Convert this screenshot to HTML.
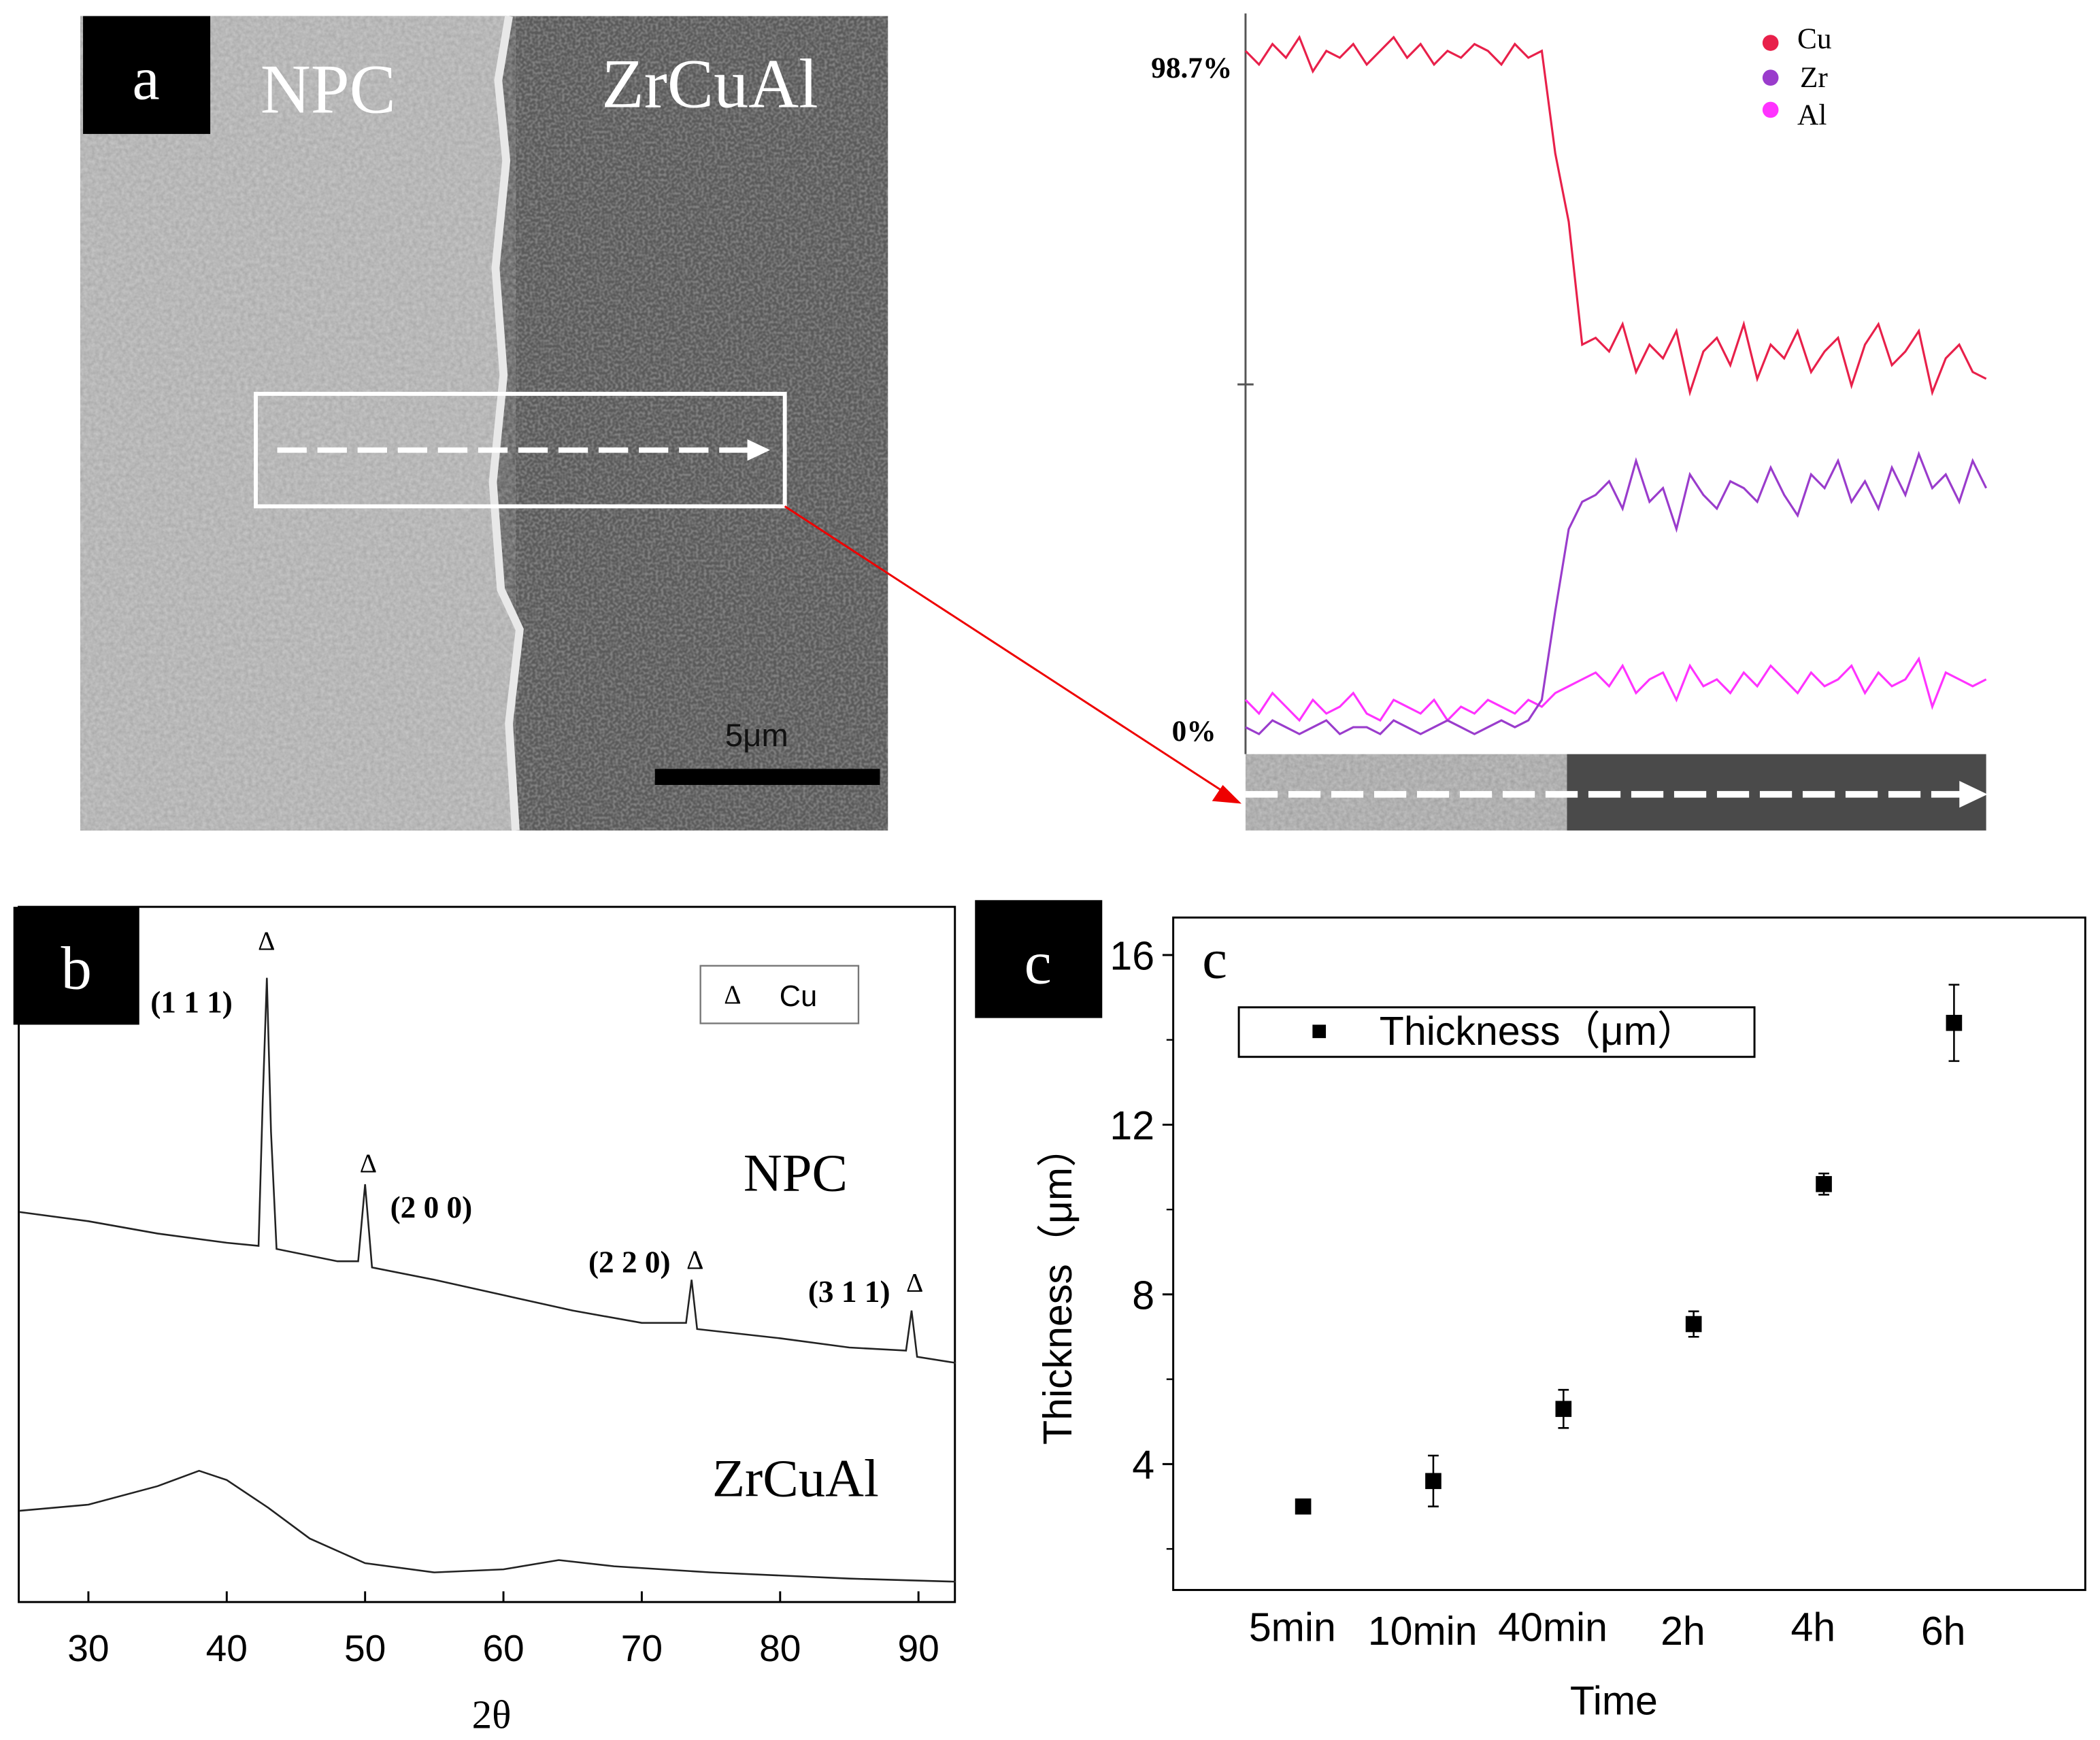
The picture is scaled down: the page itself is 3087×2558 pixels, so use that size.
<!DOCTYPE html>
<html><head><meta charset="utf-8">
<style>
html,body{margin:0;padding:0;background:#fff;}
svg{display:block;}
.serif{font-family:"Liberation Serif",serif;}
.sans{font-family:"Liberation Sans","Noto Sans CJK SC",sans-serif;}
</style></head>
<body>
<svg id="fig" width="3087" height="2558" viewBox="0 0 1568 1299" preserveAspectRatio="none" xmlns="http://www.w3.org/2000/svg">
<defs>
<filter id="tex" x="0" y="0" width="100%" height="100%">
<feTurbulence type="fractalNoise" baseFrequency="0.35" numOctaves="2" seed="3"/>
<feColorMatrix type="matrix" values="0 0 0 0 1  0 0 0 0 1  0 0 0 0 1  0 0 0 -1.2 1.1"/>
</filter>
<filter id="tex2" x="0" y="0" width="100%" height="100%">
<feTurbulence type="fractalNoise" baseFrequency="0.5" numOctaves="1" seed="7"/>
<feColorMatrix type="matrix" values="0 0 0 0 1  0 0 0 0 1  0 0 0 0 1  0 0 0 -2.5 1.6"/>
</filter>
</defs>

<!-- Panel a SEM -->
<g>
<rect x="60" y="12" width="603" height="608" fill="#5a5a5a"/>
<polygon points="60,12 380,12 372,60 378,120 370,200 376,280 368,360 374,440 388,470 380,540 385,620 60,620" fill="#a9a9a9"/>
<rect x="60" y="12" width="325" height="608" fill="#000" filter="url(#tex)" opacity="0.35"/>
<rect x="385" y="12" width="278" height="608" fill="#000" filter="url(#tex2)" opacity="0.25"/>
<polyline points="380,12 372,60 378,120 370,200 376,280 368,360 374,440 388,470 380,540 385,620" fill="none" stroke="#e8e8e8" stroke-width="6"/>
</g>
<rect x="62" y="12" width="95" height="88" fill="#000"/>
<text x="109" y="74" class="serif" font-size="46" fill="#fff" text-anchor="middle">a</text>
<text x="245" y="84" class="serif" font-size="52" fill="#fff" text-anchor="middle">NPC</text>
<text x="530" y="80" class="serif" font-size="52" fill="#fff" text-anchor="middle">ZrCuAl</text>
<rect x="191" y="294" width="395" height="84" fill="none" stroke="#fff" stroke-width="3"/>
<line x1="207" y1="336" x2="560" y2="336" stroke="#fff" stroke-width="4" stroke-dasharray="22,8"/>
<polygon points="558,328 575,336 558,344" fill="#fff"/>
<text x="565" y="557" class="sans" font-size="24" fill="#111" text-anchor="middle">5μm</text>
<rect x="489" y="574" width="168" height="12" fill="#000"/>
<line x1="586" y1="378" x2="915" y2="592" stroke="#e00" stroke-width="1.5"/>
<polygon points="927,600 905,598 913,586" fill="#e00"/>

<!-- line scan -->
<line x1="930" y1="10" x2="930" y2="563" stroke="#555" stroke-width="1.5"/>
<line x1="924" y1="287" x2="936" y2="287" stroke="#555" stroke-width="1.5"/>
<text x="920" y="58" class="serif" font-size="22" font-weight="bold" text-anchor="end">98.7%</text>
<text x="908" y="553" class="serif" font-size="22" font-weight="bold" text-anchor="end">0%</text>
<g id="scan"></g>
<circle cx="1322" cy="32" r="6" fill="#e8204a"/>
<text x="1342" y="36" class="serif" font-size="22">Cu</text>
<circle cx="1322" cy="58" r="6" fill="#9a3ccc"/>
<text x="1344" y="65" class="serif" font-size="22">Zr</text>
<circle cx="1322" cy="82" r="6" fill="#ff33ff"/>
<text x="1342" y="93" class="serif" font-size="22">Al</text>
<g>
<rect x="930" y="563" width="240" height="57" fill="#a0a0a0"/>
<rect x="930" y="563" width="240" height="57" fill="#000" filter="url(#tex)" opacity="0.35"/>
<rect x="1170" y="563" width="313" height="57" fill="#4a4a4a"/>
<line x1="930" y1="593" x2="1465" y2="593" stroke="#fff" stroke-width="5" stroke-dasharray="24,8"/>
<polygon points="1463,583 1484,593 1463,603" fill="#fff"/>
</g>

<!-- Panel b -->
<rect x="14" y="677" width="699" height="519" fill="none" stroke="#000" stroke-width="1.5"/>
<g id="xrd"></g>
<rect x="10" y="677" width="94" height="88" fill="#000"/>
<text x="57" y="738" class="serif" font-size="46" fill="#fff" text-anchor="middle">b</text>
<rect x="523" y="721" width="118" height="43" fill="#fff" stroke="#777" stroke-width="1.2"/>
<text x="547" y="749" class="serif" font-size="20" text-anchor="middle">Δ</text>
<text x="582" y="751" class="sans" font-size="22">Cu</text>
<text x="143" y="756" class="serif" font-size="23" font-weight="bold" text-anchor="middle">(1 1 1)</text>
<text x="199" y="709" class="serif" font-size="20" text-anchor="middle">Δ</text>
<text x="322" y="909" class="serif" font-size="23" font-weight="bold" text-anchor="middle">(2 0 0)</text>
<text x="275" y="875" class="serif" font-size="20" text-anchor="middle">Δ</text>
<text x="470" y="950" class="serif" font-size="23" font-weight="bold" text-anchor="middle">(2 2 0)</text>
<text x="519" y="947" class="serif" font-size="20" text-anchor="middle">Δ</text>
<text x="634" y="972" class="serif" font-size="23" font-weight="bold" text-anchor="middle">(3 1 1)</text>
<text x="683" y="964" class="serif" font-size="20" text-anchor="middle">Δ</text>
<text x="594" y="889" class="serif" font-size="40" text-anchor="middle">NPC</text>
<text x="594" y="1117" class="serif" font-size="40" text-anchor="middle">ZrCuAl</text>
<g id="xrdaxis"></g>
<text x="367" y="1290" class="serif" font-size="30" text-anchor="middle">2θ</text>

<!-- Panel c -->
<rect x="876" y="685" width="681" height="502" fill="none" stroke="#000" stroke-width="1.5"/>
<rect x="728" y="672" width="95" height="88" fill="#000"/>
<text x="775" y="734" class="serif" font-size="46" fill="#fff" text-anchor="middle">c</text>
<text x="907" y="730" class="serif" font-size="42" text-anchor="middle">c</text>
<rect x="925" y="752" width="385" height="37" fill="#fff" stroke="#000" stroke-width="1.5"/>
<rect x="980" y="765" width="10" height="10" fill="#000"/>
<text x="1030" y="780" class="sans" font-size="30">Thickness（μm）</text>
<g id="thk"></g>
<text transform="translate(800,960) rotate(-90)" class="sans" font-size="30" text-anchor="middle">Thickness（μm）</text>
<text x="1205" y="1280" class="sans" font-size="30" text-anchor="middle">Time</text>

<script>
// ---- line scan data (at % along scan) ----
const scanCu=[100,98,101,99,102,97,100,99,101,98,100,102,99,101,98,100,99,101,100,98,101,99,100,85,75,57,58,56,60,53,57,55,59,50,56,58,54,60,52,57,55,59,53,56,58,51,57,60,54,56,59,50,55,57,53,52];
const scanZr=[1,0,2,1,0,1,2,0,1,1,0,2,1,0,1,2,1,0,1,2,1,2,5,18,30,34,35,37,33,40,34,36,30,38,35,33,37,36,34,39,35,32,38,36,40,34,37,33,39,35,41,36,38,34,40,36];
const scanAl=[5,3,6,4,2,5,3,4,6,3,2,5,4,3,5,2,4,3,5,4,3,5,4,6,7,8,9,7,10,6,8,9,5,10,7,8,6,9,7,10,8,6,9,7,8,10,6,9,7,8,11,4,9,8,7,8];
// ---- XRD data ----
const xrdNpcT=[25,30,35,40,42.3,42.6,42.9,43.2,43.6,48,49.5,50.0,50.5,55,60,65,70,73.2,73.6,74.0,80,85,89.1,89.5,89.9,92.7];
const xrdNpcI=[124,121,117,114,113,160,200,150,112,108,108,133,106,102,97,92,88,88,102,86,83,80,79,92,77,75];
const xrdZrT=[25,30,35,38,40,43,46,50,55,60,64,68,75,85,92.7];
const xrdZrI=[27,29,35,40,37,28,18,10,7,8,11,9,7,5,4];
const xrdTicks=[30,40,50,60,70,80,90];
// ---- thickness data ----
const thkCats=["5min","10min","40min","2h","4h","6h"];
const thkVals=[3.0,3.6,5.3,7.3,10.6,14.4];
const thkErr=[0.15,0.6,0.45,0.3,0.25,0.9];
const thkTicks=[4,8,12,16];

const NS="http://www.w3.org/2000/svg";
function mk(parent,tag,attrs){const e=document.createElementNS(NS,tag);for(const k in attrs)e.setAttribute(k,attrs[k]);parent.appendChild(e);return e;}

// line scan
const sx=i=>930+i*(553/(scanCu.length-1));
const sy=v=>548-v*5.1;
const scan=document.getElementById('scan');
[[scanAl,'#ff33ff','al'],[scanZr,'#9a3ccc','zr'],[scanCu,'#e8204a','cu']].forEach(([d,c,n])=>{
  const p=mk(scan,'polyline',{points:d.map((v,i)=>sx(i)+','+sy(v)).join(' '),fill:'none',stroke:c,'stroke-width':1.6});
  
  
});

// XRD
const xx=t=>66+(t-30)*10.33;
const xy=I=>1190-I*2.3;
const xrd=document.getElementById('xrd');
[[xrdNpcT,xrdNpcI,'npc'],[xrdZrT,xrdZrI,'zrcual']].forEach(([T,I,n])=>{
  const p=mk(xrd,'polyline',{points:T.map((t,i)=>xx(t)+','+xy(I[i])).join(' '),fill:'none',stroke:'#222','stroke-width':1.3});
  
  
});
const xa=document.getElementById('xrdaxis');
xrdTicks.forEach(t=>{
  const l=mk(xa,'line',{x1:xx(t),y1:1196,x2:xx(t),y2:1188,stroke:'#000','stroke-width':1.5});
  
  
  const tx=mk(xa,'text',{x:xx(t),y:1240,'text-anchor':'middle','font-size':28,'class':'sans'});
  tx.textContent=t;
  
  
});

// thickness
const cx=i=>973+i*97.2;
const cy=v=>1093-(v-4)*31.67;
const thk=document.getElementById('thk');
thkTicks.forEach(t=>{
  const l=mk(thk,'line',{x1:876,y1:cy(t),x2:868,y2:cy(t),stroke:'#000','stroke-width':1.5});
  
  
  const m=mk(thk,'line',{x1:876,y1:cy(t-2),x2:871,y2:cy(t-2),stroke:'#000','stroke-width':1.2});
  
  
  const tx=mk(thk,'text',{x:862,y:cy(t)+11,'text-anchor':'end','font-size':30,'class':'sans'});
  tx.textContent=t;
  
  
});
thkCats.forEach((c,i)=>{
  const tx=mk(thk,'text',{x:cx(i)-8,y:(i%2?1228:1225),'text-anchor':'middle','font-size':30,'class':'sans'});
  tx.textContent=c;
  
  
  const x=cx(i),v=thkVals[i],e=thkErr[i];
  const eb=mk(thk,'path',{d:`M${x},${cy(v+e)}V${cy(v-e)}M${x-4},${cy(v+e)}H${x+4}M${x-4},${cy(v-e)}H${x+4}`,stroke:'#000','stroke-width':1.3,fill:'none'});
  
  
  const pt=mk(thk,'rect',{x:x-6,y:cy(v)-6,width:12,height:12,fill:'#000'});
  
  
});
</script>
</svg>
</body></html>
